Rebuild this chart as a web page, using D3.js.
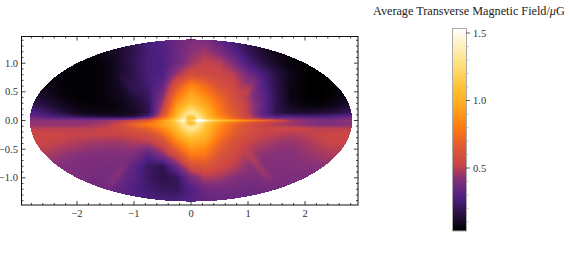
<!DOCTYPE html>
<html><head><meta charset="utf-8">
<script src="https://cdnjs.cloudflare.com/ajax/libs/d3/7.8.5/d3.min.js"></script>
<style>html,body{margin:0;padding:0;background:#fff;overflow:hidden}text{font-family:"Liberation Serif",serif;fill:#333}</style>
</head><body><svg id="c" width="571" height="255" style="display:block"></svg>
<script>
const title = "Average Transverse Magnetic Field/";
const xTicks = [-2,-1,0,1,2];
const yTicks = [-1,-0.5,0,0.5,1];
const cbTicks = [0.5,1,1.5];
const colorStops = [0.033,0.12,0.28,0.42,0.52,0.66,0.80,0.95,1.1,1.3,1.537];
const colorValues = ["#000000","#1c0c2e","#4f2083","#85307a","#c84448","#e05a30","#ff7a12","#ffa51c","#ffc234","#ffe48c","#ffffff"];
const gridX = [-3,-2.75,-2.5,-2.25,-2,-1.75,-1.5,-1.25,-1,-0.75,-0.5,-0.25,0,0.25,0.5,0.75,1,1.25,1.5,1.75,2,2.25,2.5,2.75,3];
const gridY = [1.45,1.2,1,0.8,0.6,0.4,0.25,0.14,0.08,0.04,0,-0.04,-0.08,-0.14,-0.25,-0.4,-0.6,-0.8,-1,-1.2,-1.45];
const field = [
[.05,.05,.05,.05,.05,.08,.10,.14,.20,.26,.30,.35,.40,.38,.30,.22,.16,.10,.08,.05,.04,.04,.04,.04,.04],
[.05,.05,.05,.05,.05,.06,.08,.12,.18,.26,.28,.35,.42,.46,.40,.30,.20,.12,.08,.05,.04,.04,.04,.04,.04],
[.06,.06,.06,.05,.04,.04,.06,.11,.19,.26,.27,.36,.46,.52,.50,.40,.26,.17,.10,.05,.04,.03,.04,.05,.05],
[.08,.08,.06,.05,.04,.04,.06,.11,.18,.26,.28,.46,.58,.56,.54,.50,.38,.27,.16,.08,.04,.03,.04,.05,.06],
[.12,.10,.07,.05,.04,.04,.06,.10,.17,.24,.33,.64,.86,.74,.60,.54,.44,.30,.17,.07,.04,.03,.04,.06,.10],
[.15,.13,.10,.06,.04,.04,.06,.08,.13,.21,.42,.78,.96,.86,.72,.58,.46,.33,.18,.07,.04,.03,.05,.09,.14],
[.22,.20,.15,.10,.06,.05,.05,.07,.11,.18,.48,.86,1.02,.92,.78,.62,.50,.34,.18,.09,.06,.06,.08,.13,.20],
[.30,.28,.22,.15,.09,.07,.07,.08,.10,.17,.54,.92,1.06,.98,.80,.64,.50,.32,.18,.13,.12,.13,.15,.20,.28],
[.34,.32,.27,.22,.17,.13,.11,.11,.13,.24,.60,.96,1.10,1.02,.84,.68,.52,.34,.26,.26,.24,.24,.26,.30,.34],
[.40,.38,.34,.32,.30,.28,.26,.26,.30,.42,.72,1.0,1.14,1.06,.90,.72,.56,.44,.38,.38,.36,.34,.34,.38,.42],
[.44,.42,.42,.42,.42,.42,.44,.48,.54,.62,.84,1.04,1.18,1.12,.98,.86,.74,.64,.54,.46,.42,.40,.40,.44,.46],
[.46,.44,.44,.44,.44,.44,.46,.52,.66,.76,.90,1.04,1.14,1.06,.92,.76,.64,.56,.50,.46,.42,.40,.40,.42,.44],
[.46,.44,.44,.44,.44,.46,.48,.56,.72,.80,.92,1.02,1.10,1.02,.88,.72,.60,.52,.48,.46,.44,.42,.42,.42,.44],
[.50,.50,.50,.50,.50,.50,.52,.56,.62,.70,.84,.98,1.08,1.0,.84,.70,.60,.54,.54,.54,.52,.50,.50,.50,.50],
[.54,.54,.54,.53,.52,.52,.52,.52,.54,.58,.70,.92,1.04,.98,.80,.66,.58,.52,.50,.48,.50,.52,.54,.54,.54],
[.52,.52,.52,.50,.48,.46,.45,.45,.47,.48,.56,.78,.94,.90,.72,.60,.52,.48,.45,.44,.46,.50,.52,.52,.52],
[.50,.50,.47,.44,.42,.41,.41,.41,.40,.30,.42,.58,.80,.78,.62,.56,.46,.43,.42,.42,.44,.46,.48,.48,.48],
[.42,.42,.42,.41,.40,.39,.39,.38,.32,.22,.18,.36,.58,.62,.56,.50,.43,.41,.41,.42,.42,.42,.44,.44,.44],
[.40,.40,.40,.40,.40,.38,.38,.36,.30,.22,.17,.20,.38,.48,.46,.42,.40,.40,.40,.40,.40,.40,.40,.40,.40],
[.38,.38,.38,.38,.38,.37,.36,.33,.28,.24,.21,.20,.28,.36,.38,.37,.36,.37,.38,.38,.38,.38,.38,.38,.38],
[.36,.36,.36,.36,.36,.36,.34,.32,.30,.28,.28,.28,.30,.32,.34,.34,.34,.34,.35,.36,.36,.36,.36,.36,.36]
];
const ringR = [0,0.05,0.08,0.12,0.16,0.22,0.3,0.42,0.6];
const ringGain = [-0.04,-0.04,0.05,0.24,0.24,0.16,0.08,0.03,0];
const sparkX = [-1.2,-0.8,-0.4,-0.15,0,0.12,0.2,0.4,0.8,1.3,1.8];
const sparkGain = [0,0.03,0.06,0.1,0.05,0.3,0.22,0.14,0.12,0.08,0];
const creaseX1 = [-1.3,1.2,-1.5,0.92];
const creaseY1 = [0.88,0.78,-1.22,-0.47];
const creaseX2 = [-0.9,0.9,-1.1,1.43];
const creaseY2 = [0.36,0.38,-0.7,-1.1];
const creaseGain = [0.03,0.05,0.05,0.05];

const svg = d3.select("#c");
const x = d3.scaleLinear().domain([-1,1]).range([191-57,191+57]);
const y = d3.scaleLinear().domain([-1,1]).range([120.5+57.3,120.5-57.3]);
const color = d3.scaleLinear().domain(colorStops).range(colorValues).interpolate(d3.interpolateRgb).clamp(true);
const gx = d3.scaleLinear().domain(gridX).range(gridX.map((d,i)=>i)).clamp(true);
const gy = d3.scaleLinear().domain(gridY).range(gridY.map((d,i)=>i)).clamp(true);
const ring = d3.scaleLinear().domain(ringR).range(ringGain).clamp(true);
const spark = d3.scaleLinear().domain(sparkX).range(sparkGain).clamp(true);
function crease(u,v){
  let sum=0;
  creaseGain.forEach((g,k)=>{
    const dx=creaseX2[k]-creaseX1[k],dy=creaseY2[k]-creaseY1[k],l2=dx*dx+dy*dy;
    const p=((u-creaseX1[k])*dx+(v-creaseY1[k])*dy)/l2;
    if(p<0||p>1) return;
    const d=Math.hypot(u-creaseX1[k]-p*dx,v-creaseY1[k]-p*dy);
    sum+=g*Math.max(0,1-d/0.12)*Math.min(1,4*p,4*(1-p));
  });
  return sum;
}
function val(u,v){
  const a=gx(u),b=gy(v),i=Math.min(Math.floor(a),gridX.length-2),j=Math.min(Math.floor(b),gridY.length-2),s=a-i,t=b-j;
  const f=(1-t)*((1-s)*field[j][i]+s*field[j][i+1])+t*((1-s)*field[j+1][i]+s*field[j+1][i+1]);
  const sw=Math.max(0,1-Math.abs(v)/0.035);
  return f+ring(Math.hypot(u,v))+spark(u)*sw+crease(u,v);
}
const W=1,ea=2*Math.SQRT2,eb=Math.SQRT2;
const cells=[];
for(let py=37;py<205;py+=W)for(let px=24;px<358;px+=W){
  const u=x.invert(px+W/2),v=y.invert(py+W/2);
  if((u*u)/(ea*ea)+(v*v)/(eb*eb)<=1) cells.push({px,py,u,v});
}
svg.append("g").attr("shape-rendering","crispEdges").selectAll("rect").data(cells).join("rect")
  .attr("x",d=>d.px).attr("y",d=>d.py).attr("width",W).attr("height",W).attr("fill",d=>color(val(d.u,d.v)));
svg.append("rect").attr("x",21.5).attr("y",36.5).attr("width",336.5).attr("height",168.5).attr("fill","none").attr("stroke","#111").attr("stroke-width",1);
const g=svg.append("g").attr("stroke","#111").attr("stroke-width",.8);
const xmin=d3.range(-2.8,2.81,0.2),ymin=d3.range(-1.4,1.41,0.1);
xmin.forEach(t=>{const big=Math.abs(t-Math.round(t))<1e-6,l=big?4:2;
  g.append("line").attr("x1",x(t)).attr("x2",x(t)).attr("y1",205).attr("y2",205-l);
  g.append("line").attr("x1",x(t)).attr("x2",x(t)).attr("y1",36.5).attr("y2",36.5+l);});
ymin.forEach(t=>{const big=Math.abs(t*2-Math.round(t*2))<1e-6,l=big?4:2;
  g.append("line").attr("y1",y(t)).attr("y2",y(t)).attr("x1",21.5).attr("x2",21.5+l);
  g.append("line").attr("y1",y(t)).attr("y2",y(t)).attr("x1",358).attr("x2",358-l);});
const fmt=t=>String(t<0?"\u2212":"")+Math.abs(t);
xTicks.forEach(t=>svg.append("text").attr("x",x(t)).attr("y",217).attr("text-anchor","middle").attr("font-size",10.5).text(fmt(t)));
yTicks.forEach(t=>svg.append("text").attr("x",18).attr("y",y(t)+3.5).attr("text-anchor","end").attr("font-size",10.5).text((t<0?"\u2212":"")+Math.abs(t).toFixed(1)));
const cb=d3.scaleLinear().domain([0.5,1.5]).range([168,33]);
const cbTop=cb(1.537),cbBot=cb(0.033);
svg.append("g").attr("shape-rendering","crispEdges").selectAll("rect").data(d3.range(Math.round(cbTop),Math.round(cbBot))).join("rect")
  .attr("x",453).attr("y",d=>d).attr("width",13).attr("height",1).attr("fill",d=>color(cb.invert(d+.5)));
svg.append("rect").attr("x",452.5).attr("y",28.5).attr("width",14).attr("height",202.5).attr("fill","none").attr("stroke","#aaa");
d3.range(0.1,1.51,0.1).forEach(t=>{const big=Math.abs(t*2-Math.round(t*2))<1e-6;
  svg.append("line").attr("x1",466).attr("x2",big?470:468.5).attr("y1",cb(t)).attr("y2",cb(t)).attr("stroke",big?"#333":"#aaa").attr("stroke-width",big?.8:.7);});
cbTicks.forEach(t=>svg.append("text").attr("x",473).attr("y",cb(t)+3.5).attr("font-size",10.5).text(t.toFixed(1)));
const tt=svg.append("text").attr("x",373).attr("y",14.5).attr("font-size",12.2).attr("style","fill:#222").text(title);
tt.append("tspan").attr("font-style","italic").text("\u03bc");
tt.append("tspan").text("G");
</script></body></html>
